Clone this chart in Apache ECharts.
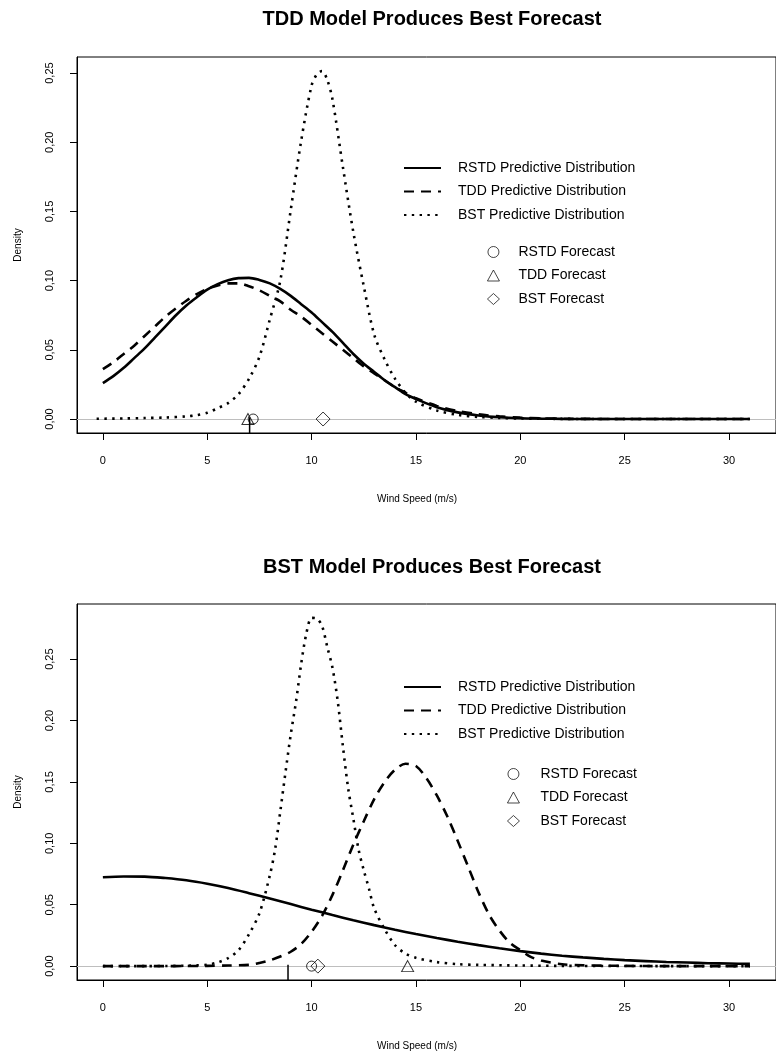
<!DOCTYPE html>
<html><head><meta charset="utf-8">
<script src="https://cdn.jsdelivr.net/npm/echarts@6/dist/echarts.min.js"></script>
<style>html,body{margin:0;padding:0;background:#fff}#c{width:776px;height:1055px}</style>
</head><body><div id="c"></div>
<script>
const FONT = '"Liberation Sans", Arial, Helvetica, sans-serif';
const chartTitles = ['TDD Model Produces Best Forecast', 'BST Model Produces Best Forecast'];
const distNames = ['RSTD Predictive Distribution', 'TDD Predictive Distribution', 'BST Predictive Distribution'];
const fcNames = ['RSTD Forecast', 'TDD Forecast', 'BST Forecast'];
const xTicks = [0, 5, 10, 15, 20, 25, 30];
const yTicks = [0, 0.05, 0.10, 0.15, 0.20, 0.25];

// ---- Top chart ----
const xTop = [0,0.5,1,1.5,2,2.5,3,3.5,4,4.5,5,5.5,6,6.5,7,7.5,8,8.5,9,9.5,10,10.5,11,11.5,12,12.5,13,13.5,14,14.5,15,16,17,18,19,20,21,22,23,25,27,29,31];
const topRSTD = [0.026,0.031,0.037,0.044,0.051,0.059,0.067,0.075,0.082,0.088,0.0935,0.0975,0.1003,0.1018,0.102,0.1005,0.098,0.094,0.089,0.083,0.077,0.070,0.063,0.055,0.047,0.040,0.034,0.028,0.023,0.018,0.0145,0.0085,0.0048,0.0026,0.0013,0.0006,0.0003,0.0001,0,0,0,0,0];
const topTDD = [0.036,0.041,0.047,0.053,0.060,0.067,0.074,0.080,0.0855,0.0903,0.094,0.0965,0.098,0.098,0.096,0.093,0.089,0.085,0.079,0.074,0.068,0.062,0.056,0.050,0.044,0.038,0.033,0.028,0.023,0.019,0.015,0.0095,0.0058,0.0034,0.0019,0.001,0.0005,0.0002,0.0001,0,0,0,0];
const xTopBST = [-0.3,1,2,3,4,4.5,5,5.5,6,6.5,7,7.5,8,8.5,9,9.5,10,10.25,10.5,10.75,11,11.5,12,12.5,13,13.5,14,14.5,15,16,17,18,19,20,22,25,28,31];
const topBST = [0.0002,0.0004,0.0007,0.0011,0.0019,0.0028,0.0045,0.0078,0.0115,0.018,0.029,0.045,0.072,0.100,0.151,0.201,0.241,0.249,0.2515,0.245,0.231,0.182,0.135,0.096,0.061,0.043,0.029,0.019,0.0125,0.0062,0.003,0.0015,0.0008,0.0004,0.0001,0,0,0];
const topForecasts = [7.2, 6.95, 10.55];   // RSTD, TDD, BST
const topObserved = 7.03;

// ---- Bottom chart ----
const xBotRSTD = [0,1,2,3,4,5,6,7,8,9,10,11,12,13,14,15,16,17,18,19,20,21,22,23,24,25,26,27,28,29,30,31];
const botRSTD = [0.0724,0.0730,0.0729,0.0717,0.0699,0.0671,0.0636,0.0594,0.0550,0.0505,0.0460,0.0416,0.0374,0.0334,0.0296,0.0261,0.0229,0.0199,0.0171,0.0145,0.0122,0.0102,0.0085,0.0071,0.0059,0.0049,0.0041,0.0034,0.0029,0.0024,0.0021,0.0018];
const xBotTDD = [0,1,2,3,4,5,6,7,7.5,8,8.5,9,9.5,10,10.5,11,11.5,12,12.5,13,13.5,14,14.5,15,15.5,16,16.5,17,17.5,18,18.5,19,19.5,20,20.5,21,22,23,25,27,29,31];
const botTDD = [0,0,0,0,0.0001,0.0002,0.0005,0.001,0.0025,0.0047,0.0078,0.0117,0.018,0.028,0.041,0.058,0.078,0.099,0.118,0.136,0.150,0.160,0.1648,0.163,0.153,0.139,0.122,0.102,0.081,0.060,0.042,0.029,0.019,0.013,0.0075,0.0045,0.0015,0.0007,0.0002,0,0,0];
const xBotBST = [0,1,2,3,4,4.5,5,5.5,6,6.5,7,7.5,8,8.25,8.5,8.75,9,9.25,9.5,9.75,10,10.25,10.5,10.75,11,11.25,11.5,11.75,12,12.25,12.5,12.75,13,13.5,14,14.5,15,16,17,18,20,22,25,28,31];
const botBST = [0,0,0,0.0001,0.0003,0.0006,0.0011,0.003,0.0065,0.013,0.026,0.043,0.074,0.095,0.126,0.158,0.1885,0.215,0.246,0.271,0.2836,0.283,0.277,0.26,0.243,0.216,0.179,0.145,0.12,0.095,0.078,0.063,0.047,0.03,0.017,0.0102,0.0068,0.0033,0.0016,0.001,0.0005,0.0002,0.0001,0,0];
const botForecasts = [10.0, 14.6, 10.3];
const botObserved = 8.87;

const X_MIN = -1.24, X_MAX = 32.25;
const zip = (xs, ys) => xs.map((x, i) => [x, ys[i]]);
const panels = [
  { dists: [zip(xTop, topRSTD), zip(xTop, topTDD), zip(xTopBST, topBST)], fc: topForecasts, obs: topObserved, yMin: -0.0101, yMax: 0.2616, top: 57 },
  { dists: [zip(xBotRSTD, botRSTD), zip(xBotTDD, botTDD), zip(xBotBST, botBST)], fc: botForecasts, obs: botObserved, yMin: -0.0113, yMax: 0.2949, top: 604 }
];
const lineStyles = [
  { color: '#000', width: 2.6, type: 'solid' },
  { color: '#000', width: 2.6, type: [10, 7], cap: 'butt' },
  { color: '#000', width: 2.6, type: [2.4, 5.4], cap: 'butt' }
];
const symbols = ['circle', 'triangle', 'diamond'];
const symSizes = [10, [12, 11], 14];
const TICK = 7;

const grids = [], xAxes = [], yAxes = [], series = [];
panels.forEach((p, i) => {
  grids.push({ left: 77, top: p.top, width: 729, height: 376, show: true, borderColor: '#000', borderWidth: 1, backgroundColor: 'transparent' });
  xAxes.push({
    type: 'value', gridIndex: i, min: X_MIN, max: X_MAX, position: 'bottom',
    axisLine: { show: true, onZero: false, lineStyle: { color: '#000', width: 1 } }, splitLine: { show: false },
    axisTick: { show: true, customValues: xTicks, length: TICK, lineStyle: { color: '#000', width: 1 } },
    axisLabel: { customValues: xTicks, fontSize: 11, color: '#000', fontFamily: FONT, margin: 22 },
    name: 'Wind Speed (m/s)', nameLocation: 'middle', nameGap: 61,
    nameTextStyle: { fontSize: 10, color: '#000', fontFamily: FONT, padding: [0, 19, 0, 0] }
  });
  yAxes.push({
    type: 'value', gridIndex: i, min: p.yMin, max: p.yMax, position: 'left',
    axisLine: { show: true, onZero: false, lineStyle: { color: '#000', width: 1 } }, splitLine: { show: false },
    axisTick: { show: true, customValues: yTicks, length: TICK, lineStyle: { color: '#000', width: 1 } },
    axisLabel: { customValues: yTicks, rotate: 90, fontSize: 11, color: '#000', fontFamily: FONT, margin: 22,
      formatter: v => v.toFixed(2).replace('.', ',') },
    name: 'Density', nameLocation: 'middle', nameGap: 54, nameRotate: 90,
    nameTextStyle: { fontSize: 10, color: '#000', fontFamily: FONT }
  });
  p.dists.forEach((d, k) => {
    const s = {
      type: 'line', name: distNames[k], xAxisIndex: i, yAxisIndex: i, data: d,
      symbol: 'none', showSymbol: false, smooth: 0.3,
      lineStyle: lineStyles[k], itemStyle: { color: '#000' }, silent: true, z: 3
    };
    if (k === 0) {
      s.markLine = { silent: true, symbol: 'none', label: { show: false }, z: 1,
        lineStyle: { color: '#bebebe', type: 'solid', width: 1 }, data: [{ yAxis: 0 }] };
    }
    series.push(s);
  });
  series.push({
    type: 'line', name: 'Observed', xAxisIndex: i, yAxisIndex: i,
    data: [[p.obs, 0.0012], [p.obs, p.yMin]], symbol: 'none',
    lineStyle: { color: '#000', width: 1.5 }, silent: true, z: 4
  });
  p.fc.forEach((x, k) => {
    series.push({
      type: 'scatter', name: fcNames[k], xAxisIndex: i, yAxisIndex: i, data: [[x, 0]],
      symbol: symbols[k], symbolSize: symSizes[k],
      itemStyle: { color: 'rgba(255,255,255,0)', borderColor: '#000', borderWidth: 1 }, silent: true, z: 5
    });
  });
});

const legText = pad => ({ fontSize: 14, color: '#000', fontFamily: FONT, lineHeight: 14, padding: [0, 0, 0, pad] });
const lineLegendItem = { color: 'rgba(0,0,0,0)', borderWidth: 0, borderColor: 'rgba(0,0,0,0)' };
const symLegendItem = { color: 'rgba(255,255,255,0)', borderColor: '#000', borderWidth: 0.9 };
const legends = [
  { left: 403, top: 161, data: distNames, itemWidth: 37, itemHeight: 14, textStyle: legText(12), itemStyle: lineLegendItem },
  { left: 487, top: 245, data: fcNames, itemWidth: 12, itemHeight: 11, textStyle: legText(14), itemStyle: symLegendItem },
  { left: 403, top: 680, data: distNames, itemWidth: 37, itemHeight: 14, textStyle: legText(12), itemStyle: lineLegendItem },
  { left: 507, top: 767, data: fcNames, itemWidth: 12, itemHeight: 11, textStyle: legText(16), itemStyle: symLegendItem }
].map(l => Object.assign({ orient: 'vertical', itemGap: 9.5, selectedMode: false, padding: 0 }, l));

const chart = echarts.init(document.getElementById('c'), null, { renderer: 'canvas' });
chart.setOption({
  backgroundColor: '#fff',
  animation: false,
  title: chartTitles.map((t, i) => ({
    text: t, left: 432, top: i === 0 ? 9 : 557, textAlign: 'center', padding: 0,
    textStyle: { fontSize: 20, fontWeight: 'bold', color: '#000', fontFamily: FONT }
  })),
  legend: legends,
  grid: grids, xAxis: xAxes, yAxis: yAxes, series: series
});
</script></body></html>
